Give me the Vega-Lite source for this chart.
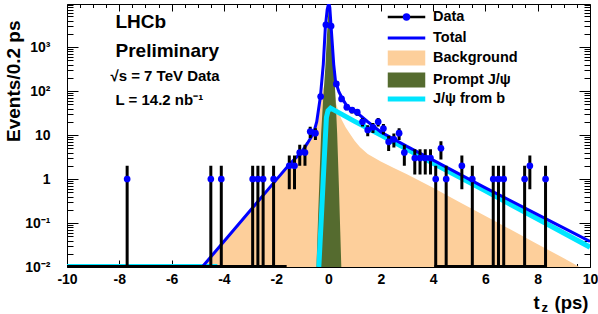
{
  "$schema": "https://vega.github.io/schema/vega-lite/v6.json",
  "width": 523,
  "height": 263,
  "autosize": {"type": "none"},
  "padding": {"left": 67, "top": 4, "right": 8, "bottom": 47},
  "background": "white",
  "config": {
    "font": "Liberation Sans",
    "view": {"stroke": "black", "strokeWidth": 1},
    "legend": {"labelFont": "Liberation Sans", "labelFontWeight": "bold", "labelFontSize": 14.5, "labelColor": "black", "padding": 0, "labelLimit": 300, "orient": "none", "direction": "vertical"}
  },
  "datasets": {
    "data": [
      {"t": -7.7, "n": 1, "lo": 0.001, "hi": 2},
      {"t": -4.5, "n": 1, "lo": 0.001, "hi": 2},
      {"t": -4.1, "n": 1, "lo": 0.001, "hi": 2},
      {"t": -2.9, "n": 1, "lo": 0.001, "hi": 2},
      {"t": -2.7, "n": 1, "lo": 0.001, "hi": 2},
      {"t": -2.5, "n": 1, "lo": 0.001, "hi": 2},
      {"t": -2.1, "n": 1, "lo": 0.001, "hi": 2},
      {"t": -1.5, "n": 2, "lo": 0.586, "hi": 3.414},
      {"t": -1.3, "n": 2, "lo": 0.586, "hi": 3.414},
      {"t": -1.1, "n": 4, "lo": 2, "hi": 6},
      {"t": -0.9, "n": 4, "lo": 2, "hi": 6},
      {"t": -0.7, "n": 12, "lo": 8.536, "hi": 15.464},
      {"t": -0.5, "n": 11, "lo": 7.683, "hi": 14.317},
      {"t": -0.3, "n": 75, "lo": 66.34, "hi": 83.66},
      {"t": -0.1, "n": 3200, "lo": 3143.4, "hi": 3256.6},
      {"t": 0.1, "n": 3000, "lo": 2945.2, "hi": 3054.8},
      {"t": 0.3, "n": 145, "lo": 132.96, "hi": 157.04},
      {"t": 0.5, "n": 66, "lo": 57.88, "hi": 74.12},
      {"t": 0.7, "n": 43, "lo": 36.44, "hi": 49.56},
      {"t": 0.9, "n": 37, "lo": 30.92, "hi": 43.08},
      {"t": 1.1, "n": 33, "lo": 27.26, "hi": 38.74},
      {"t": 1.3, "n": 20, "lo": 15.53, "hi": 24.47},
      {"t": 1.5, "n": 13, "lo": 9.39, "hi": 16.61},
      {"t": 1.7, "n": 15, "lo": 11.13, "hi": 18.87},
      {"t": 1.9, "n": 20, "lo": 15.53, "hi": 24.47},
      {"t": 2.1, "n": 14, "lo": 10.26, "hi": 17.74},
      {"t": 2.3, "n": 7, "lo": 4.35, "hi": 9.65},
      {"t": 2.5, "n": 8, "lo": 5.17, "hi": 10.83},
      {"t": 2.7, "n": 11, "lo": 7.68, "hi": 14.32},
      {"t": 2.9, "n": 4, "lo": 2, "hi": 6},
      {"t": 3.3, "n": 3, "lo": 1.268, "hi": 4.732},
      {"t": 3.5, "n": 3, "lo": 1.268, "hi": 4.732},
      {"t": 3.7, "n": 3, "lo": 1.268, "hi": 4.732},
      {"t": 3.9, "n": 3, "lo": 1.268, "hi": 4.732},
      {"t": 4.1, "n": 1, "lo": 0.001, "hi": 2},
      {"t": 4.3, "n": 5, "lo": 2.764, "hi": 7.236},
      {"t": 4.5, "n": 1, "lo": 0.001, "hi": 2},
      {"t": 5.1, "n": 2, "lo": 0.586, "hi": 3.414},
      {"t": 5.5, "n": 1, "lo": 0.001, "hi": 2},
      {"t": 6.3, "n": 1, "lo": 0.001, "hi": 2},
      {"t": 6.5, "n": 1, "lo": 0.001, "hi": 2},
      {"t": 6.7, "n": 1, "lo": 0.001, "hi": 2},
      {"t": 7.5, "n": 1, "lo": 0.001, "hi": 2},
      {"t": 7.7, "n": 2, "lo": 0.586, "hi": 3.414},
      {"t": 8.3, "n": 1, "lo": 0.001, "hi": 2}
    ],
    "bkg": [
      {"t": -4.8, "v": 0.01},
      {"t": -4.0, "v": 0.0355},
      {"t": -3.0, "v": 0.178},
      {"t": -2.0, "v": 0.891},
      {"t": -1.5, "v": 2.0},
      {"t": -1.0, "v": 4.17},
      {"t": -0.8, "v": 6.03},
      {"t": -0.6, "v": 8.91},
      {"t": -0.5, "v": 14.1},
      {"t": -0.4, "v": 25.1},
      {"t": -0.3, "v": 56.2},
      {"t": -0.2, "v": 112},
      {"t": -0.1, "v": 178},
      {"t": 0.0, "v": 200},
      {"t": 0.1, "v": 186},
      {"t": 0.2, "v": 112},
      {"t": 0.3, "v": 50.1},
      {"t": 0.4, "v": 31.6},
      {"t": 0.5, "v": 22.4},
      {"t": 0.66, "v": 14.8},
      {"t": 0.85, "v": 10},
      {"t": 1.0, "v": 7.41},
      {"t": 1.2, "v": 5.37},
      {"t": 1.5, "v": 3.72},
      {"t": 2.0, "v": 2.51},
      {"t": 2.5, "v": 1.78},
      {"t": 3.0, "v": 1.29},
      {"t": 4.0, "v": 0.631},
      {"t": 5.0, "v": 0.302},
      {"t": 6.0, "v": 0.145},
      {"t": 7.0, "v": 0.0692},
      {"t": 8.0, "v": 0.0331},
      {"t": 9.0, "v": 0.0158},
      {"t": 9.6, "v": 0.01},
      {"t": 9.7, "v": 0.0089}
    ],
    "prompt": [
      {"t": -0.47, "v": 0.0089},
      {"t": -0.46, "v": 0.01},
      {"t": -0.4, "v": 0.126},
      {"t": -0.34, "v": 1.26},
      {"t": -0.28, "v": 11.2},
      {"t": -0.2, "v": 70.8},
      {"t": -0.12, "v": 355},
      {"t": -0.06, "v": 1778},
      {"t": 0.0, "v": 7079},
      {"t": 0.03, "v": 7943},
      {"t": 0.08, "v": 2239},
      {"t": 0.14, "v": 794},
      {"t": 0.2, "v": 355},
      {"t": 0.27, "v": 70.8},
      {"t": 0.33, "v": 11.2},
      {"t": 0.4, "v": 0.631},
      {"t": 0.45, "v": 0.0631},
      {"t": 0.49, "v": 0.01},
      {"t": 0.5, "v": 0.0089}
    ],
    "fromb": [
      {"seg": "floor", "t": -10, "v": 0.0103},
      {"seg": "floor", "t": -4.25, "v": 0.0103},
      {"seg": "main", "t": -0.4, "v": 0.0063},
      {"seg": "main", "t": -0.37, "v": 0.01},
      {"seg": "main", "t": -0.25, "v": 0.251},
      {"seg": "main", "t": -0.15, "v": 3.98},
      {"seg": "main", "t": -0.08, "v": 25.1},
      {"seg": "main", "t": -0.02, "v": 35.5},
      {"seg": "main", "t": 0.08, "v": 40.7},
      {"seg": "main", "t": 0.2, "v": 37.2},
      {"seg": "main", "t": 1.0, "v": 20.4},
      {"seg": "main", "t": 2.0, "v": 9.95},
      {"seg": "main", "t": 4.0, "v": 2.29},
      {"seg": "main", "t": 6.0, "v": 0.537},
      {"seg": "main", "t": 8.0, "v": 0.123},
      {"seg": "main", "t": 10.0, "v": 0.0282}
    ],
    "total": [
      {"t": -4.83, "v": 0.01},
      {"t": -4.0, "v": 0.038},
      {"t": -3.0, "v": 0.19},
      {"t": -2.0, "v": 0.955},
      {"t": -1.5, "v": 2.14},
      {"t": -1.02, "v": 4.17},
      {"t": -0.8, "v": 6.61},
      {"t": -0.57, "v": 11.0},
      {"t": -0.45, "v": 20.0},
      {"t": -0.31, "v": 74.1},
      {"t": -0.2, "v": 398},
      {"t": -0.12, "v": 2884},
      {"t": -0.05, "v": 7079},
      {"t": 0.01, "v": 10000},
      {"t": 0.05, "v": 7943},
      {"t": 0.1, "v": 2884},
      {"t": 0.2, "v": 398},
      {"t": 0.27, "v": 162},
      {"t": 0.4, "v": 95.5},
      {"t": 0.53, "v": 67.6},
      {"t": 0.72, "v": 43.7},
      {"t": 1.04, "v": 33.9},
      {"t": 1.5, "v": 20.0},
      {"t": 2.0, "v": 11.7},
      {"t": 3.0, "v": 5.5},
      {"t": 4.0, "v": 2.69},
      {"t": 6.0, "v": 0.631},
      {"t": 8.0, "v": 0.155},
      {"t": 10.0, "v": 0.038}
    ],
    "floor": [
      {"a": -10, "b": -1.6},
      {"a": 4.05, "b": 8.35}
    ],
    "one": [{}]
  },
  "resolve": {"axis": {"x": "independent", "y": "independent"}},
  "layer": [
    {
      "data": {"name": "bkg"},
      "mark": {"type": "area", "clip": true, "opacity": 1},
      "encoding": {
        "x": {
          "field": "t", "type": "quantitative",
          "scale": {"domain": [-10, 10], "nice": false, "zero": false},
          "axis": {
            "orient": "bottom", "offset": 0,
            "values": [-10,-9.5,-9,-8.5,-8,-7.5,-7,-6.5,-6,-5.5,-5,-4.5,-4,-3.5,-3,-2.5,-2,-1.5,-1,-0.5,0,0.5,1,1.5,2,2.5,3,3.5,4,4.5,5,5.5,6,6.5,7,7.5,8,8.5,9,9.5,10],
            "labelExpr": "datum.value % 2 == 0 ? toString(datum.value) : ''",
            "labelFont": "Liberation Sans", "labelFontWeight": "bold", "labelFontSize": 14, "labelColor": "black",
            "labelPadding": 12, "labelOverlap": false, "labelFlush": false, "labelBound": false,
            "tickColor": "black", "tickWidth": 1,
            "tickSize": {"condition": {"test": "datum.value % 2 == 0", "value": -7}, "value": -3.5},
            "domain": false, "grid": false,
            "title": "(ps)", "titleFont": "Liberation Sans", "titleFontWeight": "bold", "titleFontSize": 18.5, "titleColor": "black",
            "titleX": 521, "titleY": 41, "titleAlign": "right", "titleBaseline": "alphabetic", "titleAngle": 0
          }
        },
        "y": {
          "field": "v", "type": "quantitative",
          "scale": {"type": "log", "domain": [0.01, 9500], "nice": false},
          "axis": {
            "orient": "left", "offset": 0,
            "values": [0.01,0.02,0.03,0.04,0.05,0.06,0.07,0.08,0.09,0.1,0.2,0.3,0.4,0.5,0.6,0.7,0.8,0.9,1,2,3,4,5,6,7,8,9,10,20,30,40,50,60,70,80,90,100,200,300,400,500,600,700,800,900,1000,2000,3000,4000,5000,6000,7000,8000,9000],
            "labelExpr": "datum.value == 0.01 ? '10⁻²' : datum.value == 0.1 ? '10⁻¹' : datum.value == 1 ? '1' : datum.value == 10 ? '10' : datum.value == 100 ? '10²' : datum.value == 1000 ? '10³' : ''",
            "labelFont": "Liberation Sans", "labelFontWeight": "bold", "labelFontSize": 14, "labelColor": "black",
            "labelPadding": 28, "labelOverlap": false, "labelFlush": false, "labelBound": false,
            "tickColor": "black", "tickWidth": 1,
            "tickSize": {"condition": {"test": "indexof([0.01,0.1,1,10,100,1000], datum.value) >= 0", "value": -11}, "value": -6},
            "domain": false, "grid": false,
            "title": "Events/0.2 ps", "titleFont": "Liberation Sans", "titleFontWeight": "bold", "titleFontSize": 19, "titleColor": "black",
            "titleAngle": -90, "titleAlign": "right", "titleBaseline": "alphabetic", "titleX": -48, "titleY": 16
          }
        },
        "y2": {"datum": 0.0001},
        "fill": {
          "datum": "Background",
          "scale": {"domain": ["Background", "Prompt J/ψ"], "range": ["#fdcf9b", "#556b2f"]},
          "legend": {
            "title": null, "orient": "none", "legendX": 332, "legendY": 46.5,
            "rowPadding": 6, "symbolType": "M-2.5,-1H2.5V1H-2.5Z", "symbolSize": 225, "symbolStrokeWidth": 0,
            "symbolStrokeColor": "transparent", "symbolOpacity": 1, "labelOffset": 19
          }
        }
      }
    },
    {
      "data": {"name": "prompt"},
      "mark": {"type": "area", "clip": true, "opacity": 1},
      "encoding": {
        "x": {
          "field": "t", "type": "quantitative",
          "axis": {
            "orient": "top", "offset": 0,
            "values": [-10,-9.5,-9,-8.5,-8,-7.5,-7,-6.5,-6,-5.5,-5,-4.5,-4,-3.5,-3,-2.5,-2,-1.5,-1,-0.5,0,0.5,1,1.5,2,2.5,3,3.5,4,4.5,5,5.5,6,6.5,7,7.5,8,8.5,9,9.5,10],
            "labels": false,
            "tickColor": "black", "tickWidth": 1,
            "tickSize": {"condition": {"test": "datum.value % 2 == 0", "value": -7}, "value": -3.5},
            "domain": false, "grid": false,
            "title": "t", "titleFont": "Liberation Sans", "titleFontWeight": "bold", "titleFontSize": 18.5, "titleColor": "black",
            "titleX": 466, "titleY": 304, "titleAlign": "left", "titleBaseline": "alphabetic", "titleAngle": 0
          }
        },
        "y": {
          "field": "v", "type": "quantitative",
          "axis": {
            "orient": "right", "offset": 0,
            "values": [0.01,0.02,0.03,0.04,0.05,0.06,0.07,0.08,0.09,0.1,0.2,0.3,0.4,0.5,0.6,0.7,0.8,0.9,1,2,3,4,5,6,7,8,9,10,20,30,40,50,60,70,80,90,100,200,300,400,500,600,700,800,900,1000,2000,3000,4000,5000,6000,7000,8000,9000],
            "labels": false,
            "tickColor": "black", "tickWidth": 1,
            "tickSize": {"condition": {"test": "indexof([0.01,0.1,1,10,100,1000], datum.value) >= 0", "value": -11}, "value": -6},
            "domain": false, "grid": false,
            "title": "z", "titleFont": "Liberation Sans", "titleFontWeight": "bold", "titleFontSize": 13, "titleColor": "black",
            "titleX": -49, "titleY": 307, "titleAlign": "left", "titleBaseline": "alphabetic", "titleAngle": 0
          }
        },
        "y2": {"datum": 0.0001},
        "fill": {"datum": "Prompt J/ψ"}
      }
    },
    {
      "data": {"name": "fromb"},
      "mark": {"type": "line", "clip": true, "strokeWidth": 5, "opacity": 1},
      "encoding": {
        "x": {"field": "t", "type": "quantitative", "axis": null},
        "y": {"field": "v", "type": "quantitative", "axis": null},
        "detail": {"field": "seg"},
        "color": {
          "datum": "J/ψ from b",
          "scale": {"domain": ["J/ψ from b"], "range": ["#00e5ff"]},
          "legend": {
            "title": null, "orient": "none", "legendX": 329.5, "legendY": 85,
            "symbolType": "M-2.5,0H2.5", "symbolSize": 225, "symbolStrokeWidth": 5,
            "symbolFillColor": "transparent", "symbolOpacity": 1, "labelOffset": 16.5
          }
        }
      }
    },
    {
      "data": {"name": "total"},
      "mark": {"type": "line", "clip": true, "strokeWidth": 3, "opacity": 1},
      "encoding": {
        "x": {"field": "t", "type": "quantitative", "axis": null},
        "y": {"field": "v", "type": "quantitative", "axis": null},
        "stroke": {
          "datum": "Total",
          "scale": {"domain": ["Total"], "range": ["#0000ff"]},
          "legend": {
            "title": null, "orient": "none", "legendX": 330.5, "legendY": 25,
            "symbolType": "M-2.5,0H2.5", "symbolSize": 225, "symbolStrokeWidth": 3,
            "symbolFillColor": "transparent", "symbolOpacity": 1, "labelOffset": 17.5
          }
        }
      }
    },
    {
      "data": {"name": "floor"},
      "mark": {"type": "rule", "clip": true, "strokeWidth": 4, "color": "black"},
      "encoding": {
        "x": {"field": "a", "type": "quantitative", "axis": null},
        "x2": {"field": "b"},
        "y": {"datum": 0.01, "type": "quantitative", "axis": null}
      }
    },
    {
      "data": {"name": "data"},
      "mark": {"type": "rule", "clip": true, "strokeWidth": 3, "color": "black"},
      "encoding": {
        "x": {"field": "t", "type": "quantitative", "axis": null},
        "y": {"field": "lo", "type": "quantitative", "axis": null},
        "y2": {"field": "hi"},
        "strokeDash": {
          "datum": "Data",
          "scale": {"domain": ["Data"], "range": [[1, 0]]},
          "legend": {
            "title": null, "orient": "none", "legendX": 330.5, "legendY": 4,
            "symbolType": "M-2.5,0H2.5", "symbolSize": 225, "symbolStrokeWidth": 2.7,
            "symbolStrokeColor": "black", "symbolFillColor": "transparent", "symbolOpacity": 1, "labelOffset": 17.5
          }
        }
      }
    },
    {
      "data": {"name": "data"},
      "mark": {"type": "point", "filled": true, "clip": true, "size": 45, "opacity": 1, "color": "#0000ff"},
      "encoding": {
        "x": {"field": "t", "type": "quantitative", "axis": null},
        "y": {"field": "n", "type": "quantitative", "axis": null},
        "shape": {
          "datum": "dot",
          "scale": {"domain": ["dot"], "range": ["circle"]},
          "legend": {
            "title": null, "orient": "none", "legendX": 332.25, "legendY": 5.75,
            "symbolSize": 55, "symbolStrokeWidth": 0, "symbolFillColor": "#0000ff",
            "symbolStrokeColor": "transparent", "symbolOpacity": 1, "labelExpr": "''"
          }
        }
      }
    },
    {
      "data": {"name": "one"},
      "mark": {"type": "text", "text": "LHCb", "align": "left", "baseline": "alphabetic", "font": "Liberation Sans", "fontWeight": "bold", "fontSize": 19, "color": "black"},
      "encoding": {
        "x": {"datum": -8.145, "type": "quantitative", "axis": null},
        "y": {"datum": 2664, "type": "quantitative", "axis": null}
      }
    },
    {
      "data": {"name": "one"},
      "mark": {"type": "text", "text": "Preliminary", "align": "left", "baseline": "alphabetic", "font": "Liberation Sans", "fontWeight": "bold", "fontSize": 19, "color": "black"},
      "encoding": {
        "x": {"datum": -8.145, "type": "quantitative", "axis": null},
        "y": {"datum": 602, "type": "quantitative", "axis": null}
      }
    },
    {
      "data": {"name": "one"},
      "mark": {"type": "text", "text": "√s = 7 TeV Data", "align": "left", "baseline": "alphabetic", "font": "Liberation Sans", "fontWeight": "bold", "fontSize": 15, "color": "black"},
      "encoding": {
        "x": {"datum": -8.34, "type": "quantitative", "axis": null},
        "y": {"datum": 169, "type": "quantitative", "axis": null}
      }
    },
    {
      "data": {"name": "one"},
      "mark": {"type": "text", "text": "L = 14.2 nb⁻¹", "align": "left", "baseline": "alphabetic", "font": "Liberation Sans", "fontWeight": "bold", "fontSize": 15, "color": "black"},
      "encoding": {
        "x": {"datum": -8.145, "type": "quantitative", "axis": null},
        "y": {"datum": 48.1, "type": "quantitative", "axis": null}
      }
    }
  ]
}
